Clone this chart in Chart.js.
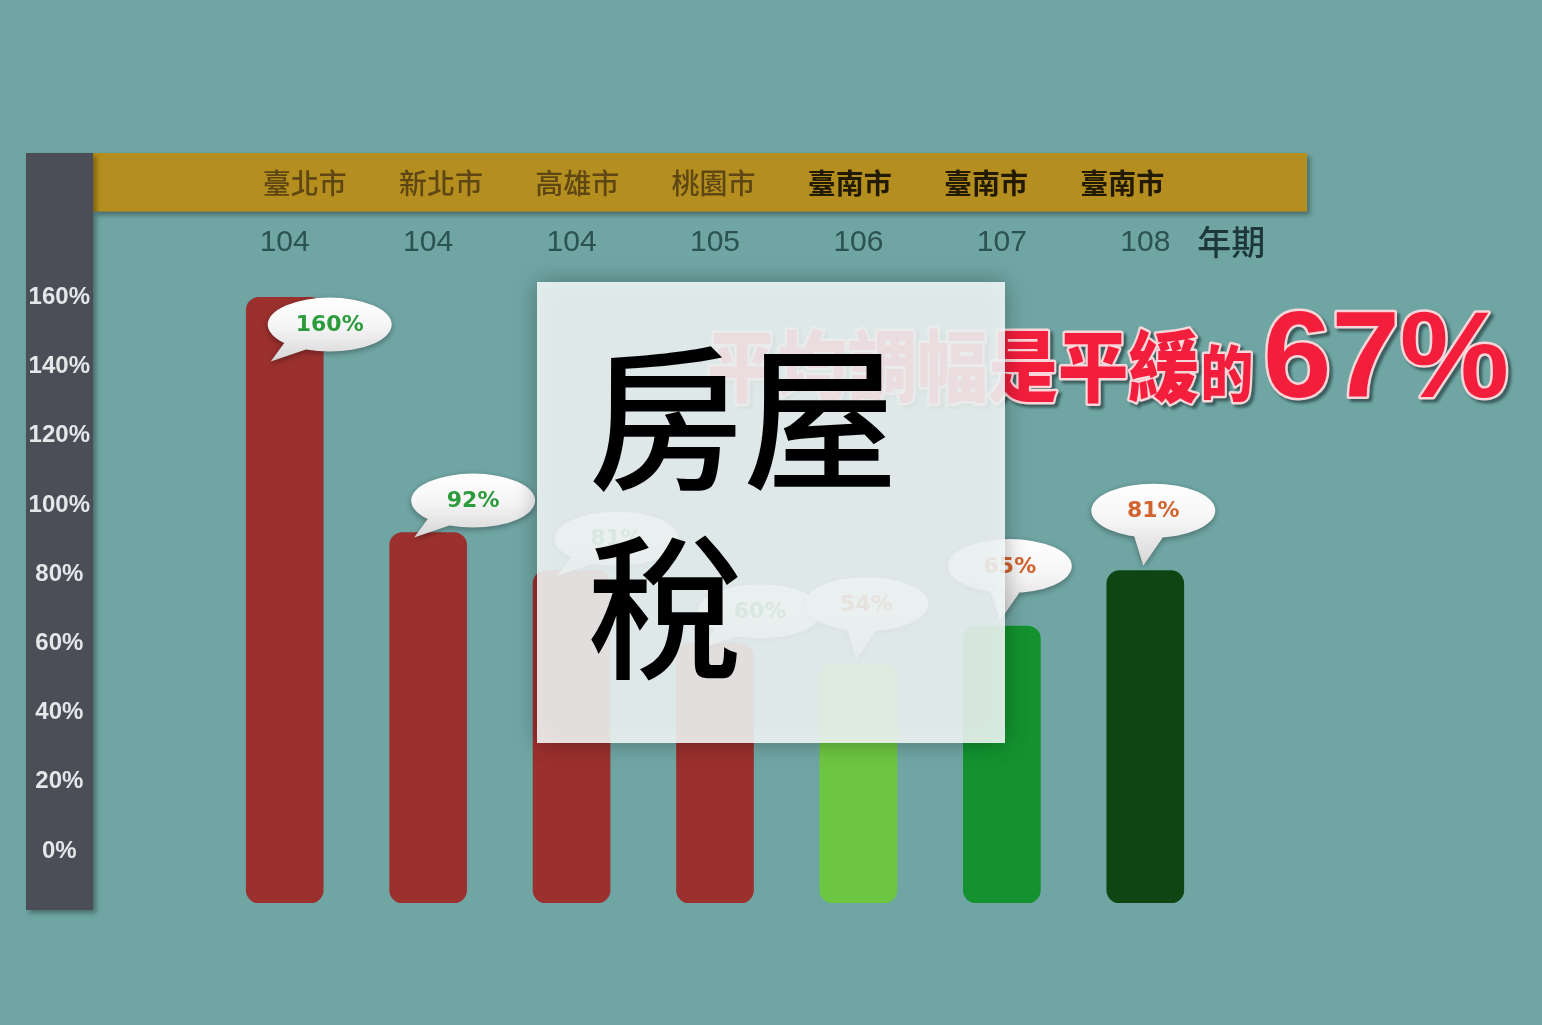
<!DOCTYPE html>
<html><head><meta charset="utf-8">
<script src="https://cdn.jsdelivr.net/npm/chart.js@4.4.1/dist/chart.umd.min.js"></script>
<style>html,body{margin:0;padding:0;background:#6FA6A4;overflow:hidden}#wrap{width:1542px;height:1025px;position:relative}</style>
</head><body><div id="wrap"><canvas id="c"></canvas></div>
<script>
const years = ['104','104','104','105','106','107','108'];
const cities = ['臺北市','新北市','高雄市','桃園市','臺南市','臺南市','臺南市'];
const rates = [160, 92, 81, 60, 54, 65, 81];
const highlight = [false, false, false, false, true, true, true];
const barColors = ['#9B302E','#9B302E','#9B302E','#9B302E','#6DC641','#13922F','#0E4513'];
const yTicks = [0, 20, 40, 60, 80, 100, 120, 140, 160];
const periodLabel = '年期';
const titleLines = ['房屋', '稅'];
const headlineParts = ['平均調幅是平緩', '的', '67%'];

function bubble(ctx, cx, cy, tx, ty, text, color) {
  const rx = 62, ry = 27;
  ctx.save();
  const th = Math.atan2((ty - cy) / ry, (tx - cx) / rx);
  const p1 = [cx + rx * 0.85 * Math.cos(th - 0.32), cy + ry * 0.85 * Math.sin(th - 0.32)];
  const p2 = [cx + rx * 0.85 * Math.cos(th + 0.32), cy + ry * 0.85 * Math.sin(th + 0.32)];
  ctx.shadowColor = 'rgba(0,0,0,0.35)'; ctx.shadowBlur = 6; ctx.shadowOffsetY = 2;
  const g = ctx.createLinearGradient(0, cy - ry, 0, ty);
  g.addColorStop(0, '#FFFFFF'); g.addColorStop(0.45, '#F5F5F5'); g.addColorStop(1, '#D6D6D6');
  ctx.fillStyle = g;
  ctx.beginPath();
  ctx.ellipse(cx, cy, rx, ry, 0, 0, Math.PI * 2);
  ctx.moveTo(p1[0], p1[1]); ctx.lineTo(tx, ty); ctx.lineTo(p2[0], p2[1]); ctx.closePath();
  ctx.fill();
  ctx.shadowColor = 'transparent';
  ctx.fillStyle = color;
  ctx.font = 'bold 22px "DejaVu Sans", sans-serif';
  ctx.textAlign = 'center'; ctx.textBaseline = 'middle';
  ctx.fillText(text, cx, cy + 1);
  ctx.restore();
}

function outlined(ctx, text, x, y, font, sx) {
  ctx.save();
  ctx.translate(x, y); ctx.scale(sx, 1);
  ctx.font = font; ctx.textBaseline = 'alphabetic'; ctx.lineJoin = 'round';
  ctx.shadowColor = 'rgba(20,40,40,0.6)'; ctx.shadowOffsetX = 3; ctx.shadowOffsetY = 3; ctx.shadowBlur = 3;
  ctx.strokeStyle = '#F8D6D9'; ctx.lineWidth = 5; ctx.strokeText(text, 0, 0);
  ctx.shadowColor = 'transparent';
  ctx.fillStyle = '#F21E3C'; ctx.fillText(text, 0, 0);
  const w = ctx.measureText(text).width * sx;
  ctx.restore();
  return w;
}

const deco = {
  id: 'deco',
  beforeDraw(chart) {
    const {ctx, scales: {x, y}} = chart;
    ctx.save();
    ctx.fillStyle = '#6FA6A4'; ctx.fillRect(0, 0, chart.width, chart.height);
    const bandTop = 153, bandBottom = x.top - 11;
    ctx.shadowColor = 'rgba(0,0,0,0.35)'; ctx.shadowBlur = 5; ctx.shadowOffsetX = 3; ctx.shadowOffsetY = 3;
    ctx.fillStyle = '#B48F1F';
    ctx.fillRect(y.left + 67, bandTop, x.right + 90 - (y.left + 67), bandBottom - bandTop);
    ctx.fillStyle = '#4B4E56';
    ctx.fillRect(y.left, bandTop, 67, y.bottom + 7 - bandTop);
    ctx.restore();
  },
  afterDatasetsDraw(chart) {
    const {ctx} = chart;
    const meta = chart.getDatasetMeta(0);
    meta.data.forEach((bar, i) => {
      const hl = highlight[i];
      const cx = bar.x + (hl ? 8 : 45);
      let cy = bar.y + (hl ? -60 : -32);
      cy = Math.max(cy, chart.chartArea.top + 62);
      const tx = hl ? cx - 10 : cx - 59;
      const ty = hl ? cy + 55 : cy + 37;
      bubble(ctx, cx, cy, tx, ty, rates[i] + '%', hl ? '#D2642E' : '#2C9B3B');
    });
  },
  afterDraw(chart) {
    const {ctx, scales: {x}} = chart;
    ctx.save();
    ctx.font = '500 34px "Noto Sans CJK TC", sans-serif';
    ctx.fillStyle = '#1E3839'; ctx.textBaseline = 'middle'; ctx.textAlign = 'left';
    ctx.fillText(periodLabel, x.getPixelForValue(years.length - 1) + 52, 242);
    let hx = 707;
    hx += outlined(ctx, headlineParts[0], hx, 396, '900 78px "Noto Sans CJK TC", sans-serif', 0.9);
    outlined(ctx, headlineParts[1], hx + 2, 396, '900 60px "Noto Sans CJK TC", sans-serif', 0.88);
    outlined(ctx, headlineParts[2], 1263, 397, 'bold 123px "Liberation Sans", Arial, sans-serif', 1);
    ctx.save();
    ctx.shadowColor = 'rgba(0,0,0,0.35)'; ctx.shadowBlur = 22;
    ctx.fillStyle = 'rgba(242,248,248,0.88)';
    ctx.fillRect(537, 282, 468, 461);
    ctx.restore();
    ctx.fillStyle = '#000';
    ctx.font = '500 155px "Noto Sans CJK TC", sans-serif';
    ctx.textBaseline = 'middle'; ctx.textAlign = 'left';
    ctx.fillText(titleLines[0], 588, 418);
    ctx.fillText(titleLines[1], 588, 607);
    ctx.restore();
  }
};

new Chart(document.getElementById('c'), {
  type: 'bar',
  data: {
    labels: years,
    datasets: [{
      data: rates,
      backgroundColor: barColors,
      borderRadius: 13,
      borderSkipped: false,
      barThickness: 77,
      base: -15,
      xAxisID: 'x', yAxisID: 'y'
    }]
  },
  options: {
    responsive: true, maintainAspectRatio: false, animation: false,
    layout: {padding: {left: 26, right: 325, top: 145, bottom: 122}},
    plugins: {legend: {display: false}, tooltip: {enabled: false}},
    scales: {
      x: {
        position: 'top', weight: 0,
        grid: {display: false, drawTicks: false}, border: {display: false},
        ticks: {padding: 2, autoSkip: false, maxRotation: 0, color: '#2D5253',
          font: {family: '"Liberation Sans", Arial, sans-serif', size: 30}}
      },
      x2: {
        type: 'linear', position: 'top', weight: 1, min: -0.674, max: 6.695, offset: false,
        grid: {display: false, drawTicks: false}, border: {display: false},
        afterBuildTicks: s => { s.ticks = cities.map((c, i) => ({value: i})); },
        ticks: {
          padding: 22, autoSkip: false, maxRotation: 0,
          callback: v => cities[v] ?? '',
          color: c => highlight[c.index] ? '#231A04' : '#5E4712',
          font: c => ({family: '"Noto Sans CJK TC", sans-serif', size: 28, weight: highlight[c.index] ? '700' : '500'})
        }
      },
      y: {
        min: -15, max: 170,
        afterBuildTicks: s => { s.ticks = yTicks.map(v => ({value: v})); },
        afterFit: s => { s.width = 187; s.paddingTop = 0; s.paddingBottom = 0; },
        grid: {display: false, drawTicks: false}, border: {display: false},
        ticks: {crossAlign: 'center', padding: 123, callback: v => v + '%', color: '#E4E6E8',
          font: {family: '"Liberation Sans", Arial, sans-serif', size: 24, weight: 'bold'}}
      }
    }
  },
  plugins: [deco]
});
</script></body></html>
